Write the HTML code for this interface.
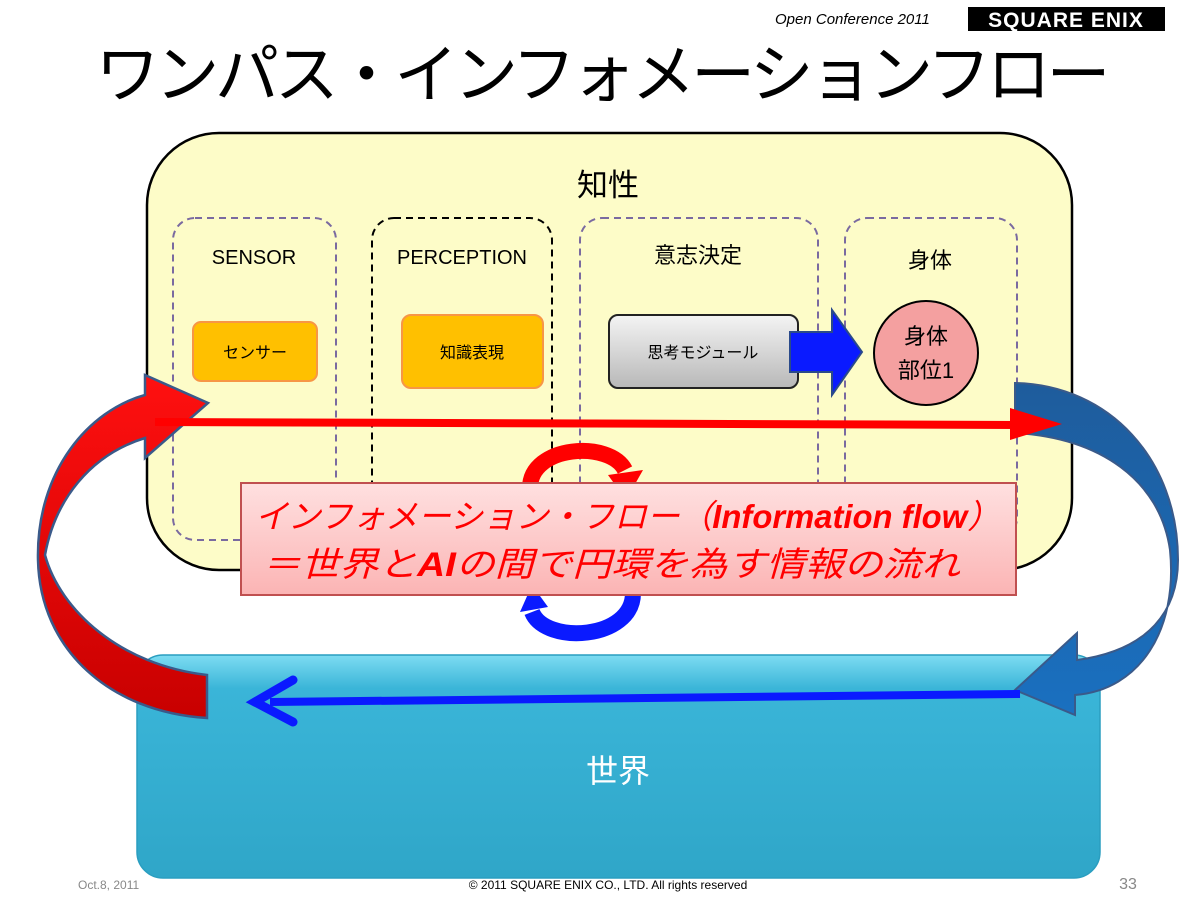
<!DOCTYPE html>
<html><head><meta charset="utf-8"><style>
body{margin:0;background:#fff;}
svg{display:block;font-family:"Liberation Sans","Noto Sans CJK JP",sans-serif;}
</style></head><body>
<svg width="1200" height="900" viewBox="0 0 1200 900" xmlns="http://www.w3.org/2000/svg">
<defs>
<linearGradient id="gray" x1="0" y1="0" x2="0" y2="1"><stop offset="0" stop-color="#f4f4f4"/><stop offset="1" stop-color="#b8b8b8"/></linearGradient>
<linearGradient id="pink" x1="0" y1="0" x2="0" y2="1"><stop offset="0" stop-color="#ffe0e0"/><stop offset="1" stop-color="#fbb4b4"/></linearGradient>
<linearGradient id="cyan" x1="0" y1="0" x2="0" y2="1"><stop offset="0" stop-color="#7ddcf2"/><stop offset="0.15" stop-color="#3ab5d8"/><stop offset="1" stop-color="#2fa6c8"/></linearGradient>
<linearGradient id="redg" x1="0" y1="0" x2="0" y2="1"><stop offset="0" stop-color="#ff1010"/><stop offset="1" stop-color="#c80000"/></linearGradient>
<linearGradient id="blueg" x1="0" y1="0" x2="0" y2="1"><stop offset="0" stop-color="#1e5c9c"/><stop offset="1" stop-color="#1a70c0"/></linearGradient>
</defs>
<text x="775" y="24" font-size="15" font-style="italic" fill="#000">Open Conference 2011</text>
<rect x="968" y="7" width="197" height="24" fill="#000"/>
<text x="1066" y="27" font-size="21" font-weight="bold" fill="#fff" text-anchor="middle" letter-spacing="1">SQUARE ENIX</text>
<text x="603" y="97" font-size="64" text-anchor="middle" fill="#000" textLength="1015">ワンパス・インフォメーションフロー</text>

<rect x="147" y="133" width="925" height="437" rx="72" fill="#fdfcc8" stroke="#000" stroke-width="2.5"/>
<text x="608" y="196" font-size="31" text-anchor="middle">知性</text>
<g fill="none" stroke-width="2" stroke-dasharray="7,5">
<rect x="173" y="218" width="163" height="322" rx="22" stroke="#7a6aa0"/>
<rect x="372" y="218" width="180" height="322" rx="22" stroke="#000"/>
<rect x="580" y="218" width="238" height="322" rx="22" stroke="#7a6aa0"/>
<rect x="845" y="218" width="172" height="322" rx="22" stroke="#7a6aa0"/>
</g>
<text x="254" y="264" font-size="20" text-anchor="middle">SENSOR</text>
<text x="462" y="264" font-size="20" text-anchor="middle">PERCEPTION</text>
<text x="698" y="263" font-size="22" text-anchor="middle">意志決定</text>
<text x="930" y="268" font-size="22" text-anchor="middle">身体</text>

<rect x="193" y="322" width="124" height="59" rx="8" fill="#ffc000" stroke="#f79646" stroke-width="2"/>
<text x="255" y="358" font-size="16" text-anchor="middle">センサー</text>
<rect x="402" y="315" width="141" height="73" rx="9" fill="#ffc000" stroke="#f79646" stroke-width="2"/>
<text x="472" y="358" font-size="16" text-anchor="middle">知識表現</text>
<rect x="609" y="315" width="189" height="73" rx="9" fill="url(#gray)" stroke="#222" stroke-width="2"/>
<text x="703" y="358" font-size="16" text-anchor="middle">思考モジュール</text>
<polygon points="790,332 832,332 832,310 862,352 832,395 832,372 790,372" fill="#0a1aff" stroke="#2a4a8a" stroke-width="2"/>
<circle cx="926" cy="353" r="52" fill="#f4a0a0" stroke="#000" stroke-width="2"/>
<text x="926" y="344" font-size="22" text-anchor="middle">身体</text>
<text x="926" y="378" font-size="22" text-anchor="middle">部位1</text>

<rect x="137" y="655" width="963" height="223" rx="26" fill="url(#cyan)" stroke="#2a9ec0" stroke-width="1.5"/>
<text x="618" y="782" font-size="32" fill="#fff" text-anchor="middle">世界</text>

<path d="M207 675 L207 718 C110 712 40 650 38 560 C36 470 90 410 145 395 L145 375 L208 403 L145 458 L145 438 C90 455 55 500 45 555 C60 610 120 665 207 675 Z" fill="url(#redg)" stroke="#3a5a8a" stroke-width="2.5"/>
<path d="M1015 383 C1110 385 1178 460 1178 560 C1178 610 1150 650 1077 660 L1077 633 L1015 690 L1075 715 L1075 695 C1140 690 1178 630 1170 550 C1160 480 1100 438 1015 433 Z" fill="url(#blueg)" stroke="#3a5a8a" stroke-width="2"/>

<path d="M155 422 L1020 425" stroke="#ff0000" stroke-width="8" fill="none"/>
<polygon points="1010,408 1062,424 1010,440" fill="#ff0000"/>
<path d="M1020 694 L270 702" stroke="#0a1aff" stroke-width="8" fill="none"/>
<polyline points="293,680 255,702 293,722" stroke="#0a1aff" stroke-width="9" fill="none" stroke-linecap="round"/>

<path d="M530 488 C530 445 610 440 625 470" stroke="#ff0000" stroke-width="16" fill="none"/>
<polygon points="608,475 643,470 626,500" fill="#ff0000"/>
<path d="M633 593 C633 640 545 645 532 612" stroke="#0a1aff" stroke-width="16" fill="none"/>
<polygon points="520,612 548,607 532,585" fill="#0a1aff"/>

<rect x="241" y="483" width="775" height="112" fill="url(#pink)" stroke="#c05050" stroke-width="2"/>
<text x="255" y="528" font-size="33" font-style="italic" fill="#ff0000" textLength="745" lengthAdjust="spacingAndGlyphs">インフォメーション・フロー（<tspan font-weight="bold">Information flow</tspan>）</text>
<text x="262" y="576" font-size="34" font-style="italic" fill="#ff0000" textLength="698" lengthAdjust="spacingAndGlyphs">＝世界と<tspan font-weight="bold">AI</tspan>の間で円環を為す情報の流れ</text>

<text x="78" y="889" font-size="12" fill="#888">Oct.8, 2011</text>
<text x="608" y="889" font-size="12" fill="#000" text-anchor="middle">© 2011 SQUARE ENIX CO., LTD. All rights reserved</text>
<text x="1128" y="889" font-size="16" fill="#888" text-anchor="middle">33</text>
</svg>
</body></html>
